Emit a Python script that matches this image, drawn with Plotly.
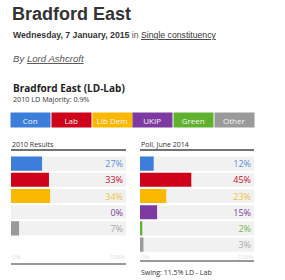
import plotly.graph_objects as go

# ---- data ----
parties = ["Con", "Lab", "Lib Dem", "UKIP", "Green", "Other"]
party_colors = ["#3d7edb", "#d0021b", "#fbb800", "#7d3aa0", "#5fb12f", "#9a9a9a"]
label_colors = ["#5e8fd6", "#c9102a", "#f0c43c", "#7b3f9e", "#78b84c", "#aaaaaa"]

results_2010_parties = ["Con", "Lab", "Lib Dem", "UKIP", "Other"]
results_2010 = [27, 33, 34, 0, 7]

poll_parties = ["Con", "Lab", "Lib Dem", "UKIP", "Green", "Other"]
poll_2014 = [12, 45, 23, 15, 2, 3]

title = "Bradford East"
date_text = "Wednesday, 7 January, 2015"
category_text = "Single constituency"
author = "Lord Ashcroft"
seat_title = "Bradford East (LD-Lab)"
majority_text = "2010 LD Majority: 0.9%"
left_header = "2010 Results"
right_header = "Poll, June 2014"
swing_text = "Swing: 11.5% LD - Lab"
tick_labels = ["0%", "100%"]

W, H = 285, 280
def px(x):
    return x / W
def py(y):
    return 1 - y / H

color_of = dict(zip(parties, party_colors))
lcolor_of = dict(zip(parties, label_colors))

fig = go.Figure()

def add_panel(cats, vals, xa, ya):
    # row background (full 100%) carrying the value labels
    fig.add_trace(go.Bar(
        x=[100] * len(cats), y=cats, orientation="h",
        marker=dict(color="#f1f1f1", line=dict(width=0)),
        text=[f"{v}%" for v in vals], textposition="inside",
        insidetextanchor="end", textangle=0, constraintext="none",
        textfont=dict(family="Open Sans", size=9,
                      color=[lcolor_of[c] for c in cats]),
        cliponaxis=False,
        xaxis=xa, yaxis=ya, hoverinfo="skip", showlegend=False))
    fig.add_trace(go.Bar(
        x=vals, y=cats, orientation="h",
        marker=dict(color=[color_of[c] for c in cats], line=dict(width=0)),
        xaxis=xa, yaxis=ya, hoverinfo="skip", showlegend=False))

add_panel(results_2010_parties, results_2010, "x", "y")
add_panel(poll_parties, poll_2014, "x2", "y2")

row_top, row_pitch, nslots = 155.5, 16.2, 6
ydom = [py(row_top + row_pitch * nslots), py(row_top)]
axis_common = dict(visible=False, showgrid=False, zeroline=False, fixedrange=True)

annotations = []
shapes = []

def paper_text(text, x, y, size, color, family="Open Sans"):
    annotations.append(dict(text=text, x=px(x), y=py(y), xref="paper", yref="paper",
                            xanchor="left", yanchor="middle", showarrow=False,
                            font=dict(family=family, size=size, color=color)))

# header texts
paper_text(f"<b>{title}</b>", 10, 14, 18, "#333333", "Liberation Sans, Arial")
paper_text(f"<b>{date_text}</b> <span style='color:#555'>in</span> <u>{category_text}</u>",
           10.5, 35, 8.7, "#333333", "Liberation Sans, Arial")
paper_text(f"<i>By <u>{author}</u></i>", 10.5, 58, 9.6, "#555555", "Liberation Sans, Arial")
paper_text(f"<b>{seat_title}</b>", 10.5, 88, 10, "#222222")
paper_text(majority_text, 10.5, 99, 7.2, "#333333")

# colour key boxes
box_w, pitch, first_c = 38.5, 40.65, 30.9
for i, (p, c) in enumerate(zip(parties, party_colors)):
    annotations.append(dict(text=p, x=px(first_c + i * pitch), y=py(119.5), xref="paper", yref="paper",
                            xanchor="center", yanchor="middle", showarrow=False,
                            width=box_w, height=14, bgcolor=c, borderpad=0,
                            font=dict(family="Open Sans", size=8, color="#f4f4f4")))

# panel headers, rules, tick labels
for xa, header, bottom_y in (("x", left_header, 264), ("x2", right_header, 261)):
    annotations.append(dict(text=header, x=0, y=py(144), xref=f"{xa} domain", yref="paper",
                            xanchor="left", yanchor="middle", showarrow=False, xshift=-1,
                            font=dict(family="Open Sans", size=7, color="#333333")))
    shapes.append(dict(type="line", xref=f"{xa} domain", yref="paper", x0=0, x1=1,
                       y0=py(150), y1=py(150), line=dict(color="#444444", width=1.5)))
    shapes.append(dict(type="line", xref=f"{xa} domain", yref="paper", x0=0, x1=1,
                       y0=py(bottom_y), y1=py(bottom_y), line=dict(color="#777777", width=1.5)))
    annotations.append(dict(text=tick_labels[0], x=0, y=py(257), xref=xa, yref="paper",
                            xanchor="left", yanchor="middle", showarrow=False, xshift=-1,
                            font=dict(family="Open Sans", size=6, color="#dddddd")))
    annotations.append(dict(text=tick_labels[1], x=100, y=py(257), xref=xa, yref="paper",
                            xanchor="right", yanchor="middle", showarrow=False, xshift=1,
                            font=dict(family="Open Sans", size=6, color="#dddddd")))

annotations.append(dict(text=swing_text, x=0, y=py(272), xref="x2 domain", yref="paper",
                        xanchor="left", yanchor="middle", showarrow=False, xshift=-1,
                        font=dict(family="Open Sans", size=7, color="#333333")))

fig.update_layout(
    width=W, height=H, margin=dict(l=0, r=0, t=0, b=0),
    paper_bgcolor="white", plot_bgcolor="white",
    barmode="overlay", bargap=0.13,
    xaxis=dict(domain=[px(11), px(126)], range=[0, 100], anchor="y", **axis_common),
    xaxis2=dict(domain=[px(140), px(254)], range=[0, 100], anchor="y2", **axis_common),
    yaxis=dict(domain=ydom, type="category", range=[nslots - 0.5, -0.5], anchor="x", **axis_common),
    yaxis2=dict(domain=ydom, type="category", range=[nslots - 0.5, -0.5], anchor="x2", **axis_common),
    annotations=annotations, shapes=shapes,
    showlegend=False,
)

fig.write_html("out.html", config={"displayModeBar": False})
